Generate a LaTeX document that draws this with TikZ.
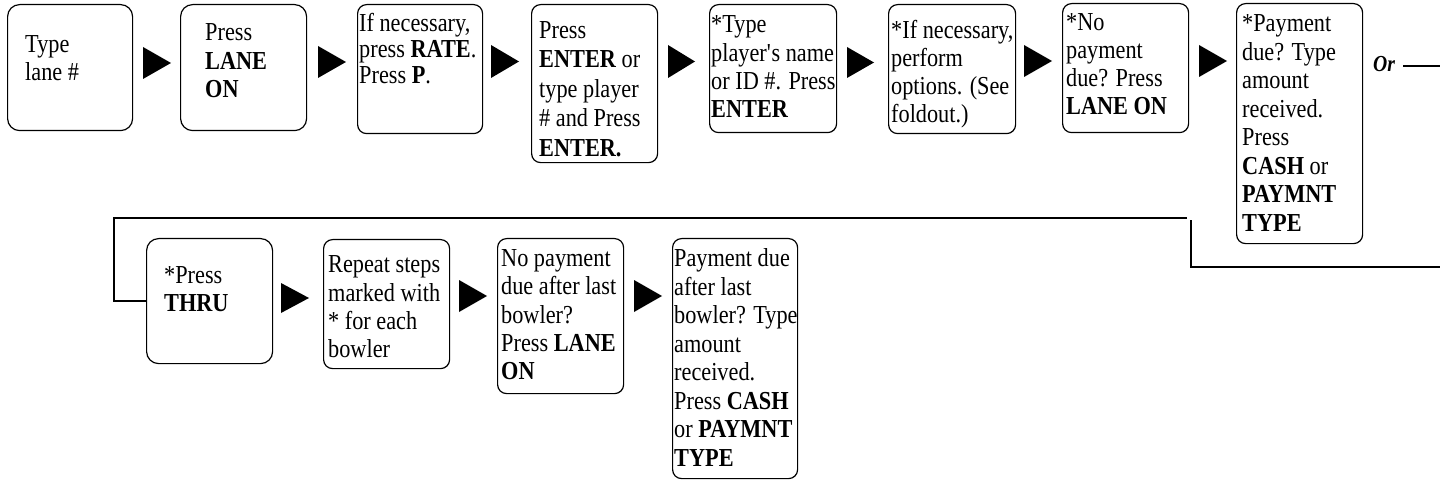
\documentclass[tikz,border=0pt]{standalone}
\usepackage{fontspec}
\setmainfont{Liberation Serif}[FakeStretch=0.86]
\tikzset{
  box/.style={draw, line width=1.2bp, rounded corners=9bp, anchor=north west, inner sep=0pt},
  bigbox/.style={box, rounded corners=12bp},
  txt/.style={anchor=base west, inner sep=0pt},
  tri/.style={fill=black},
  conn/.style={line width=1.2bp}
}
\newcommand\stepbox[6][box]{\node[#1, minimum width=#5bp, minimum height=#6bp] (#2) at (#3,#4) {};}
\newcommand\steptext[5]{\node[txt] (#1) at (#2,#3) {\fontsize{26}{#4}\selectfont\begin{tabular}[t]{@{}l@{}}#5\end{tabular}};}
\newcommand\steptri[5]{\fill[tri] (#2,#4) -- (#3,{(#4+#5)/2}) -- (#2,#5) -- cycle; \coordinate (#1) at (#2,{(#4+#5)/2});}
\begin{document}
\begin{tikzpicture}[x=1bp,y=-1bp]
\useasboundingbox (0,0) rectangle (1440,480);
% boxes
\stepbox[bigbox]{b1}{7}{4}{125}{126}
\stepbox[bigbox]{b2}{180}{4}{126}{126}
\stepbox{b3}{357}{4}{125}{129}
\stepbox{b4}{531}{4}{126}{158}
\stepbox{b5}{709}{4}{127}{128}
\stepbox{b6}{888}{4}{127}{129}
\stepbox{b7}{1062}{3}{126}{129}
\stepbox{b8}{1236}{3}{126}{240}
\stepbox[bigbox]{b9}{146}{238}{126}{125}
\stepbox{b10}{323}{239}{126}{129}
\stepbox{b11}{497}{238}{126}{155}
\stepbox{b12}{672}{238}{125}{240}
% texts
\steptext{t1}{25}{53}{28}{Type\\lane \#}
\steptext{t2}{205}{40.5}{28.7}{Press\\\textbf{LANE}\\\textbf{ON}}
\steptext{t3}{359}{31.5}{26}{If necessary,\\press \textbf{RATE}.\\Press \textbf{P}.}
\steptext{t4}{539}{38.5}{29.5}{Press\\\textbf{ENTER} or\\type player\\\# and Press\\\textbf{ENTER.}}
\steptext{t5}{711}{33}{28.3}{*Type\\player\textquotesingle s name\\or ID \#. Press\\\textbf{ENTER}}
\steptext{t6}{891}{39}{28}{*If necessary,\\perform\\options. (See\\foldout.)}
\steptext{t7}{1066}{30.7}{28}{*No\\payment\\due? Press\\\textbf{LANE ON}}
\steptext{t8}{1242}{31.7}{28.6}{*Payment\\due? Type\\amount\\received.\\Press\\\textbf{CASH} or\\\textbf{PAYMNT}\\\textbf{TYPE}}
\steptext{t9}{164}{283.3}{28}{*Press\\\textbf{THRU}}
\steptext{t10}{328}{272.7}{28.5}{Repeat steps\\marked with\\{}* for each\\bowler}
\steptext{t11}{501}{266.7}{28.3}{No payment\\due after last\\bowler?\\Press \textbf{LANE}\\\textbf{ON}}
\steptext{t12}{674}{266.7}{28.6}{Payment due\\after last\\bowler? Type\\amount\\received.\\Press \textbf{CASH}\\or \textbf{PAYMNT}\\\textbf{TYPE}}
% arrows
\steptri{a1}{143}{171}{47}{79}
\steptri{a2}{318}{346}{46}{78}
\steptri{a3}{491}{519}{45}{78}
\steptri{a4}{668}{695}{45}{78}
\steptri{a5}{847}{874}{47}{78}
\steptri{a6}{1024}{1052}{45}{77}
\steptri{a7}{1199}{1227}{45}{77}
\steptri{a9}{281}{309}{283}{313}
\steptri{a10}{459}{487}{280}{312}
\steptri{a11}{634}{662}{280}{312}
% Or branch
\node[txt] (or) at (1373,72) {\fontsize{23}{26}\selectfont\bfseries\itshape Or};
\coordinate (orL) at (1403,66);
\coordinate (orR) at (1440,66);
\draw[conn] (orL) -- (orR);
\coordinate (r1) at (1440,267);
\coordinate (r2) at (1191,267);
\coordinate (r3) at (1191,220);
\draw[conn] (r1) -- (r2) -- (r3);
\coordinate (l1) at (1187,218);
\coordinate (l2) at (114,218);
\coordinate (l3) at (114,301);
\draw[conn] (l1) -- (l2) -- (l3) -- (l3 -| b9.west);
\end{tikzpicture}
\end{document}
